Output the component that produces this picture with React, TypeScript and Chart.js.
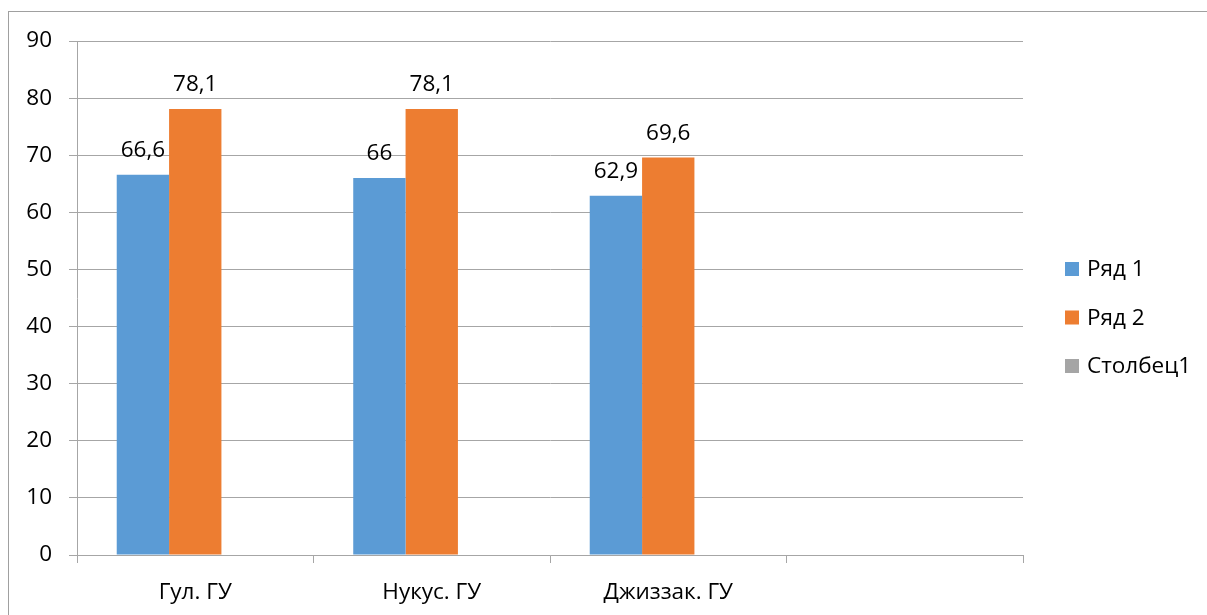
import React, { useEffect, useRef } from "react";
import { Chart, registerables } from "chart.js";

Chart.register(...registerables);

const categories = ["Гул. ГУ", "Нукус. ГУ", "Джиззак. ГУ", ""];
const seriesNames = ["Ряд 1", "Ряд 2", "Столбец1"];
const series1 = [66.6, 66, 62.9, null];
const series2 = [78.1, 78.1, 69.6, null];
const series3 = [null, null, null, null];
const colors = ["#5B9BD5", "#ED7D31", "#A5A5A5"];
const yMin = 0;
const yMax = 90;
const yStep = 10;

const FONT = "'Open Sans'";
const FS = 22.5;
const GRID = "#A6A6A6";

const dataLabels = {
  id: "dataLabels",
  afterDatasetsDraw(chart: any) {
    const ctx = chart.ctx;
    ctx.save();
    ctx.font = `${FS}px ${FONT}`;
    ctx.fillStyle = "#000";
    ctx.textAlign = "center";
    ctx.textBaseline = "alphabetic";
    chart.data.datasets.forEach((ds: any, i: number) => {
      const meta = chart.getDatasetMeta(i);
      meta.data.forEach((el: any, j: number) => {
        const v = ds.data[j];
        if (v === null || v === undefined) return;
        ctx.fillText(String(v).replace(".", ","), el.x, el.y - 18);
      });
    });
    ctx.restore();
  },
};

const customLegend = {
  id: "customLegend",
  afterDraw(chart: any) {
    const ctx = chart.ctx;
    const ca = chart.chartArea;
    ctx.save();
    ctx.font = `${FS}px ${FONT}`;
    ctx.textAlign = "left";
    ctx.textBaseline = "middle";
    chart.data.datasets.forEach((ds: any, i: number) => {
      const cy = ca.top + 228 + i * 48.5;
      const x = ca.right + 42;
      ctx.fillStyle = ds.backgroundColor;
      ctx.fillRect(x, cy - 7, 14, 14);
      ctx.fillStyle = "#000";
      ctx.fillText(ds.label, x + 22, cy + 1);
    });
    ctx.restore();
  },
};

const outerBorder = {
  id: "outerBorder",
  afterDraw(chart: any) {
    const ctx = chart.ctx;
    ctx.save();
    ctx.strokeStyle = "#A0A0A0";
    ctx.lineWidth = 1;
    ctx.strokeRect(8.5, 11.5, 3000, 3000);
    ctx.restore();
  },
};

export default function App() {
  const ref = useRef<HTMLCanvasElement>(null);
  useEffect(() => {
    if (!ref.current) return;
    const chart = new Chart(ref.current, {
      type: "bar",
      data: {
        labels: categories,
        datasets: [
          { label: seriesNames[0], data: series1, backgroundColor: colors[0] },
          { label: seriesNames[1], data: series2, backgroundColor: colors[1] },
          { label: seriesNames[2], data: series3, backgroundColor: colors[2] },
        ] as any,
      },
      options: {
        animation: false,
        responsive: true,
        maintainAspectRatio: false,
        layout: { padding: { top: 41, right: 184, left: 0, bottom: 0 } },
        datasets: { bar: { barPercentage: 1, categoryPercentage: 0.664 } },
        plugins: { legend: { display: false }, tooltip: { enabled: false } },
        scales: {
          x: {
            afterFit(scale: any) {
              scale.height = 60;
            },
            grid: { offset: true, drawOnChartArea: false, drawTicks: true, tickLength: 8, color: GRID },
            border: { display: true, color: GRID },
            ticks: { color: "#000", font: { family: FONT, size: FS }, padding: 16 },
          },
          y: {
            min: yMin,
            max: yMax,
            afterFit(scale: any) {
              scale.width = 77;
            },
            grid: { color: GRID, tickLength: 8 },
            border: { display: true, color: GRID },
            ticks: { stepSize: yStep, color: "#000", font: { family: FONT, size: FS }, padding: 17 },
          },
        },
      },
      plugins: [dataLabels, customLegend, outerBorder],
    } as any);
    return () => chart.destroy();
  }, []);
  return (
    <div style={{ position: "fixed", left: 0, top: 0, width: 1207, height: 615, background: "#fff" }}>
      <canvas ref={ref} />
    </div>
  );
}
